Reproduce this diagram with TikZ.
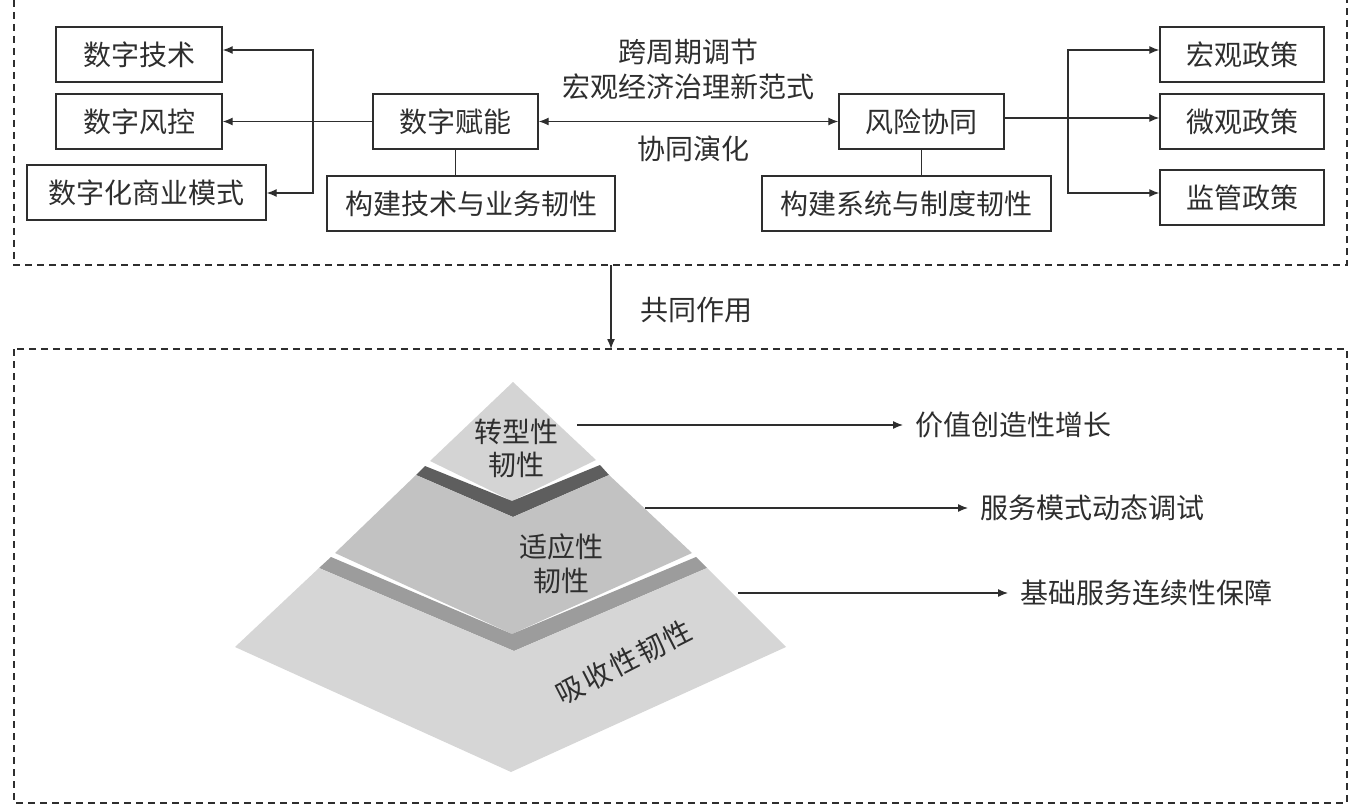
\documentclass[tikz,border=0pt]{standalone}
\usepackage{fontspec}
\newfontfamily\cjk{Noto Sans CJK SC}
\usetikzlibrary{arrows.meta}
\definecolor{ink}{HTML}{2E2E2E}
\definecolor{pLight}{HTML}{D4D4D4}
\definecolor{pDark}{HTML}{5E5E5E}
\definecolor{pMid}{HTML}{C2C2C2}
\definecolor{pBand}{HTML}{9C9C9C}
\definecolor{pBase}{HTML}{D6D6D6}
\begin{document}
\begin{tikzpicture}[x=1pt,y=-1pt,
 every node/.style={font=\cjk\fontsize{28}{33}\selectfont, text=ink},
 box/.style={draw=ink, line width=1.4pt, minimum height=55pt, inner sep=0pt, anchor=center},
 conn/.style={draw=ink, line width=1.3pt},
 arr/.style={conn, -{Latex[length=10pt,width=8pt]}},
 darr/.style={conn, {Latex[length=10pt,width=8pt]}-{Latex[length=10pt,width=8pt]}},
 frame/.style={draw=ink, line width=1.2pt, dash pattern=on 7pt off 5pt},
 lbl/.style={anchor=west, inner xsep=12pt, inner ysep=0pt}
]
\useasboundingbox (0,0) rectangle (1356,810);

% frames
\draw[frame] (14,0) -- (14,265) -- (1347,265) -- (1347,0);
\draw[frame] (14,349) rectangle (1347,803);

% boxes
\node[box, minimum width=166pt] (dt) at (139,54.5) {数字技术};
\node[box, minimum width=166pt] (dr) at (139,121.5) {数字风控};
\node[box, minimum width=239pt] (dbm) at (146.5,192.5) {数字化商业模式};
\node[box, minimum width=165pt] (de) at (455.5,121.5) {数字赋能};
\node[box, minimum width=288pt] (bt) at (471,203.5) {构建技术与业务韧性};
\node[box, minimum width=165pt] (rc) at (921.5,121.5) {风险协同};
\node[box, minimum width=289pt] (bs) at (906.5,203.5) {构建系统与制度韧性};
\node[box, minimum width=164pt] (mp) at (1242,54.5) {宏观政策};
\node[box, minimum width=164pt] (mi) at (1242,121.5) {微观政策};
\node[box, minimum width=164pt] (sp) at (1242,197.5) {监管政策};

% left connectors
\coordinate (lv1) at (313,50);
\coordinate (lv2) at (313,193);
\draw[arr] (de.west) -- (dr.east);
\draw[darr] (dt.east |- lv1) -- (lv1) -- (lv2) -- (dbm.east |- lv2);

% middle
\draw[darr] (de.east) -- (rc.west);
\draw[conn] (de.south) -- (de.south |- bt.north);
\draw[conn] (rc.south) -- (rc.south |- bs.north);
\node[align=center, font=\cjk\fontsize{28}{35}\selectfont] (cyc) at (688,69.5) {跨周期调节\\宏观经济治理新范式};
\node (co) at (693,149) {协同演化};

% right connectors
\coordinate (rv) at (1068,118);
\coordinate (rv1) at (1068,50);
\coordinate (rv2) at (1068,193);
\draw[arr] (rc.east |- rv) -- (mi.west |- rv);
\draw[darr] (mp.west |- rv1) -- (rv1) -- (rv2) -- (sp.west |- rv2);

% between frames
\coordinate (fa) at (611,265);
\coordinate (fb) at (611,349);
\draw[arr] (fa) -- (fb);
\node (gz) at (696,310) {共同作用};

% pyramid
\fill[pLight] (513,382) -- (596,460) -- (512,501) -- (430,461) -- cycle;
\fill[pDark] (425,466) -- (512,501) -- (600,465) -- (609,475) -- (513,517) -- (416,475) -- cycle;
\fill[pMid] (416,475) -- (513,517) -- (609,475) -- (692,553) -- (512,634) -- (335,553) -- cycle;
\fill[pBand] (331,557) -- (512,634) -- (696,557) -- (707,568) -- (514,651) -- (319,568) -- cycle;
\fill[pBase] (319,568) -- (514,651) -- (707,568) -- (786,647) -- (511,772) -- (235,647) -- cycle;

\node[align=center] (t1) at (516,448.5) {转型性\\韧性};
\node[align=center, font=\cjk\fontsize{28}{34}\selectfont] (t2) at (561,564) {适应性\\韧性};
\node[rotate=27] (t3) at (624,662) {吸\hspace{2pt}收\hspace{2pt}性\hspace{2pt}韧\hspace{2pt}性};

% right arrows
\coordinate (s1) at (577,425);
\node[lbl] (r1) at (903,425) {价值创造性增长};
\draw[arr] (s1) -- (r1.west);
\coordinate (s2) at (645,508);
\node[lbl] (r2) at (968,508) {服务模式动态调试};
\draw[arr] (s2) -- (r2.west);
\coordinate (s3) at (738,593);
\node[lbl] (r3) at (1008,593) {基础服务连续性保障};
\draw[arr] (s3) -- (r3.west);
\end{tikzpicture}
\end{document}
